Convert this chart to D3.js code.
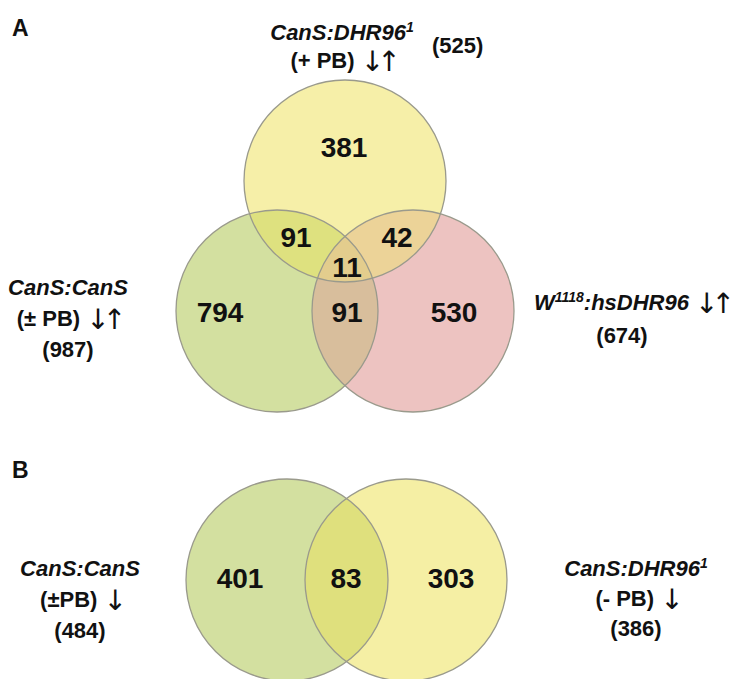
<!DOCTYPE html>
<html>
<head>
<meta charset="utf-8">
<script src="https://cdn.jsdelivr.net/npm/d3@7"></script>
<style>
  body { margin: 0; background: #ffffff; }
  text { font-family: "Liberation Sans", Arial, sans-serif; fill: #111; }
  .arrow { font-family: "DejaVu Sans", sans-serif; font-weight: normal; }
</style>
</head>
<body>
<svg id="chart" width="744" height="679"></svg>
<script>
// ---- Panel A: three-way overlap of regulated gene sets ----
const setKeysA = ["L", "T", "R"];
const setTotalsA = [987, 525, 674];
const regionKeysA = ["L", "T", "R", "LT", "TR", "LR", "LTR"];
const regionCountsA = [794, 381, 530, 91, 42, 91, 11];

// ---- Panel B: two-way overlap of down-regulated genes ----
const setKeysB = ["L", "R"];
const setTotalsB = [484, 386];
const regionKeysB = ["L", "R", "LR"];
const regionCountsB = [401, 303, 83];

// Geometry of each panel's circles
const R = 101;
const circlesA = { L: [277, 311], T: [345, 181], R: [413, 311] };
const circlesB = { L: [287, 580], R: [406, 580] };

// Region fills
const fillA = {
  L: "#d3e0a0", T: "#f6efa8", R: "#edc3c1",
  LT: "#dee17f", TR: "#ecd398", LR: "#d8be9c", LTR: "#e3cd8d"
};
const fillB = { L: "#d3e0a0", R: "#f5efa4", LR: "#dfe07d" };

// Where each region's count sits
const labelPosA = {
  L: [220, 312], T: [344, 147], R: [454, 312],
  LT: [296, 237], TR: [397, 237], LR: [347, 312], LTR: [347, 267]
};
const labelPosB = { L: [240, 578], LR: [346, 578], R: [451, 578] };

const svg = d3.select("#chart");
const defs = svg.append("defs");

function venn(prefix, circles, fills, keys, counts, pos) {
  const g = svg.append("g");
  const names = Object.keys(circles);
  names.forEach(k => {
    defs.append("clipPath").attr("id", prefix + k)
      .append("circle").attr("cx", circles[k][0]).attr("cy", circles[k][1]).attr("r", R);
  });
  const circle = (sel, k) => sel.append("circle")
    .attr("cx", circles[k][0]).attr("cy", circles[k][1]).attr("r", R);

  // single-set fills
  names.forEach(k => circle(g, k).attr("fill", fills[k]));
  // pairwise overlaps
  for (let i = 0; i < names.length; i++) {
    for (let j = i + 1; j < names.length; j++) {
      const key = names[i] + names[j];
      const fk = fills[key] ? key : names[j] + names[i];
      circle(g, names[j]).attr("clip-path", `url(#${prefix}${names[i]})`).attr("fill", fills[fk]);
    }
  }
  // triple overlap
  if (names.length === 3) {
    const inner = g.append("g").attr("clip-path", `url(#${prefix}${names[0]})`);
    circle(inner, names[2]).attr("clip-path", `url(#${prefix}${names[1]})`).attr("fill", fills[names.join("")]);
  }
  // outlines
  names.forEach(k => circle(g, k).attr("fill", "none").attr("stroke", "#9a9a8c").attr("stroke-width", 1.3));

  // counts
  g.selectAll("text.count").data(keys.map((k, i) => ({ k, v: counts[i] })))
    .join("text").attr("class", "count")
    .attr("x", d => pos[d.k][0]).attr("y", d => pos[d.k][1] + 10)
    .attr("text-anchor", "middle")
    .attr("font-size", 28).attr("font-weight", "bold")
    .text(d => d.v);
}

venn("cA", circlesA, fillA, regionKeysA, regionCountsA, labelPosA);
venn("cB", circlesB, fillB, regionKeysB, regionCountsB, labelPosB);

// ---- Set labels ----
// each label: lines of parts {t, it (italic), sup, a (arrow glyphs)}
function label(x, y, lines, lh, anchor = "middle") {
  lines.forEach((parts, i) => {
    const t = svg.append("text").attr("x", x).attr("y", y + i * lh)
      .attr("text-anchor", anchor).attr("font-size", 22);
    parts.forEach(p => {
      const s = t.append("tspan").text(p.t)
        .attr("font-weight", "bold")
        .attr("font-style", p.it ? "italic" : "normal");
      if (p.sup) s.attr("font-size", 14).attr("baseline-shift", "60%");
      if (p.a) s.attr("class", "arrow").attr("font-size", 28)
        .attr("letter-spacing", -7).attr("dy", 3);
    });
  });
}
const arrows = "\u2193\u2191";
const down = "\u2193";

svg.append("text").attr("x", 12).attr("y", 36).attr("font-size", 23).attr("font-weight", "bold").text("A");
svg.append("text").attr("x", 12).attr("y", 478).attr("font-size", 23).attr("font-weight", "bold").text("B");

// top set of panel A
label(342, 40, [
  [{ t: "CanS:DHR96", it: 1 }, { t: "1", it: 1, sup: 1 }],
  [{ t: "(+ PB) " }, { t: arrows, a: 1 }]
], 28);
svg.append("text").attr("x", 432).attr("y", 53).attr("font-size", 22).attr("font-weight", "bold")
  .text(`(${setTotalsA[1]})`);

// left set of panel A
label(68, 295, [
  [{ t: "CanS:CanS", it: 1 }],
  [{ t: "(\u00b1 PB) " }, { t: arrows, a: 1 }],
  [{ t: `(${setTotalsA[0]})` }]
], 31);

// right set of panel A
label(534, 310, [
  [{ t: "W", it: 1 }, { t: "1118", it: 1, sup: 1 }, { t: ":hsDHR96 ", it: 1 }, { t: arrows, a: 1 }]
], 0, "start");
label(622, 343, [[{ t: `(${setTotalsA[2]})` }]], 0);

// left set of panel B
label(80, 576, [
  [{ t: "CanS:CanS", it: 1 }],
  [{ t: "(\u00b1PB) " }, { t: down, a: 1 }],
  [{ t: `(${setTotalsB[0]})` }]
], 31);

// right set of panel B
label(636, 576, [
  [{ t: "CanS:DHR96", it: 1 }, { t: "1", it: 1, sup: 1 }],
  [{ t: "(- PB) " }, { t: down, a: 1 }],
  [{ t: `(${setTotalsB[1]})` }]
], 30);
</script>
</body>
</html>
